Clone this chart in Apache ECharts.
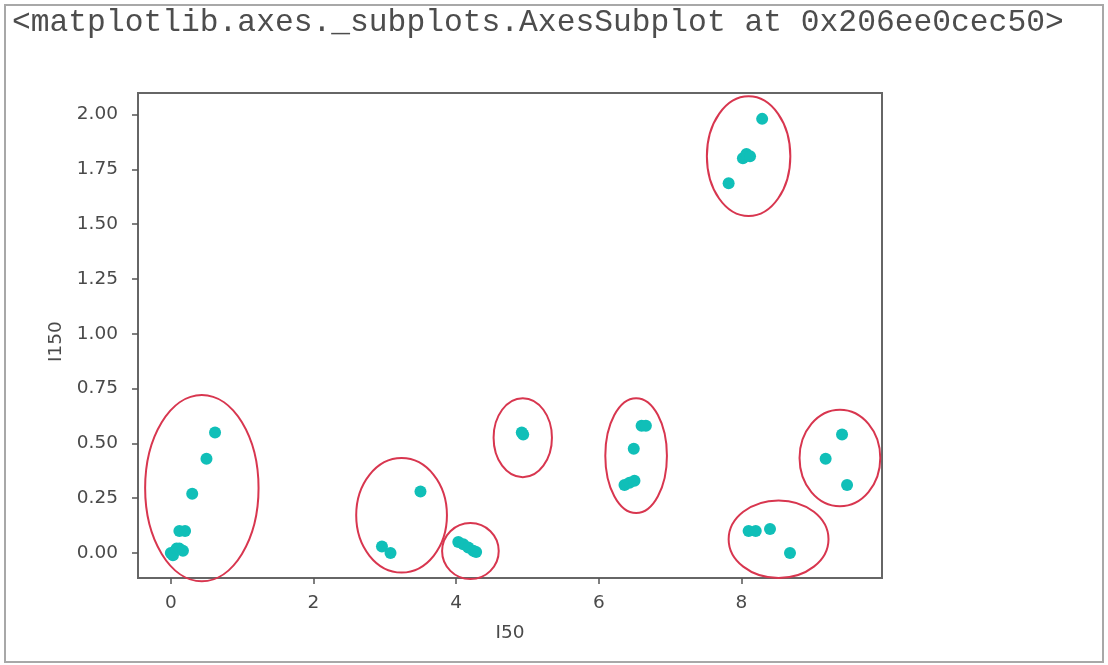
<!DOCTYPE html>
<html>
<head>
<meta charset="utf-8">
<script src="https://cdn.jsdelivr.net/npm/echarts@6/dist/echarts.min.js"></script>
<style>
  html, body { margin: 0; padding: 0; background: #fff; }
  #chart { width: 1108px; height: 665px; }
</style>
</head>
<body>
<div id="chart"></div>
<script>
// header line printed by the notebook
var headerText = "<matplotlib.axes._subplots.AxesSubplot at 0x206ee0cec50>";

// scatter points (I50, I150)
var xValues = [0.00, 0.03, 0.08, 0.12, 0.17, 0.12, 0.20, 0.30, 0.50, 0.62,
               2.96, 3.08, 3.50,
               4.03, 4.10, 4.17, 4.24, 4.28,
               4.92, 4.94,
               6.60, 6.66, 6.49, 6.36, 6.43, 6.50,
               8.10, 8.20, 8.40, 8.68,
               9.41, 9.18, 9.48,
               8.29, 8.02, 8.07, 8.12, 7.82];
var yValues = [0.00, -0.01, 0.02, 0.02, 0.01, 0.10, 0.10, 0.27, 0.43, 0.55,
               0.03, 0.00, 0.28,
               0.05, 0.04, 0.025, 0.01, 0.005,
               0.55, 0.54,
               0.58, 0.58, 0.475, 0.31, 0.32, 0.33,
               0.10, 0.10, 0.11, 0.00,
               0.54, 0.43, 0.31,
               1.98, 1.80, 1.82, 1.81, 1.686];

// hand drawn red circles around the groups (centre and radii in data units)
var ringCx = [0.435, 3.235, 4.20, 4.934, 6.523, 8.52, 9.38, 8.10];
var ringCy = [0.296, 0.172, 0.009, 0.526, 0.444, 0.063, 0.433, 1.81];
var ringRx = [0.795, 0.636, 0.397, 0.409, 0.432, 0.70, 0.566, 0.585];
var ringRy = [0.425, 0.261, 0.128, 0.180, 0.262, 0.177, 0.220, 0.273];

// tick labels
var xTicks = [0, 2, 4, 6, 8];
var yTicks = [0, 0.25, 0.5, 0.75, 1.0, 1.25, 1.5, 1.75, 2.0];

var points = [];
for (var i = 0; i < xValues.length; i++) {
    points.push([xValues[i], yValues[i]]);
}
var rings = [];
for (var j = 0; j < ringCx.length; j++) {
    rings.push([ringCx[j], ringCy[j], ringRx[j], ringRy[j]]);
}

var chart = echarts.init(document.getElementById("chart"));
var tickFont = { color: "#4a4a4a", fontSize: 18.5, fontFamily: "DejaVu Sans" };

var option = {
    backgroundColor: "#fff",
    animation: false,
    title: {
        text: headerText,
        left: 7,
        top: 2,
        textStyle: { fontFamily: "Liberation Mono", fontSize: 31.3, fontWeight: "normal", color: "#4d4d4d" }
    },
    graphic: [{
        type: "rect",
        shape: { x: 5, y: 5, width: 1098, height: 657 },
        style: { fill: "none", stroke: "#a8a8a8", lineWidth: 2 },
        z: -1
    }],
    grid: {
        left: 138, top: 93, right: 226, bottom: 87,
        show: true, borderColor: "#666", borderWidth: 2, backgroundColor: "transparent"
    },
    xAxis: {
        type: "value",
        min: -0.46, max: 9.97,
        name: "I50",
        nameLocation: "middle",
        nameGap: 46,
        nameTextStyle: { color: "#4a4a4a", fontSize: 18.5, fontFamily: "DejaVu Sans" },
        axisLine: { show: false, onZero: false },
        splitLine: { show: false },
        axisTick: { show: true, length: 6, lineStyle: { color: "#555", width: 1.5 }, customValues: xTicks },
        axisLabel: Object.assign({ margin: 16, customValues: xTicks }, tickFont)
    },
    yAxis: {
        type: "value",
        min: -0.114, max: 2.098,
        name: "I150",
        nameLocation: "middle",
        nameGap: 66,
        nameTextStyle: { color: "#4a4a4a", fontSize: 18.5, fontFamily: "DejaVu Sans", padding: [0, 12, 0, 0] },
        axisLine: { show: false, onZero: false },
        splitLine: { show: false },
        axisTick: { show: true, length: 6, lineStyle: { color: "#555", width: 1.5 }, customValues: yTicks },
        axisLabel: Object.assign({
            margin: 20,
            customValues: yTicks,
            formatter: function (v) { return v.toFixed(2); }
        }, tickFont)
    },
    series: [{
        type: "scatter",
        data: points,
        symbolSize: 12,
        itemStyle: { color: "#10bfb8", opacity: 1 },
        z: 3
    }, {
        type: "custom",
        data: rings,
        clip: false,
        z: 4,
        renderItem: function (params, api) {
            var c = api.coord([api.value(0), api.value(1)]);
            var s = api.size([api.value(2), api.value(3)]);
            return {
                type: "ellipse",
                shape: { cx: c[0], cy: c[1], rx: s[0], ry: s[1] },
                style: { fill: "none", stroke: "#d8364f", lineWidth: 2 }
            };
        }
    }]
};
chart.setOption(option);
</script>
</body>
</html>
